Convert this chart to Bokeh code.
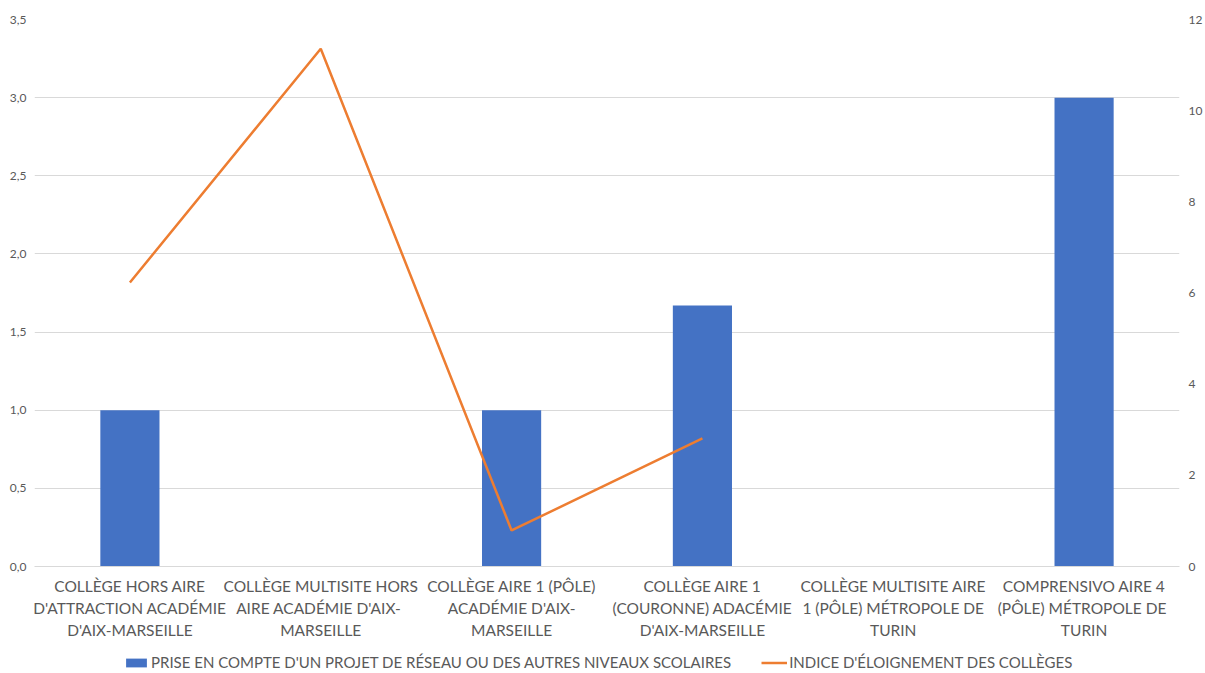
from bokeh.plotting import figure
from bokeh.layouts import column
from bokeh.models import (Range1d, LinearAxis, FixedTicker, CustomJSTickFormatter,
                          Legend, LegendItem)
from bokeh.embed import file_html
from bokeh.resources import INLINE

label_lines = [
    ("COLLÈGE HORS AIRE", "D'ATTRACTION ACADÉMIE", "D'AIX-MARSEILLE"),
    ("COLLÈGE MULTISITE HORS", "AIRE  ACADÉMIE D'AIX-", "MARSEILLE"),
    ("COLLÈGE AIRE 1 (PÔLE)", "ACADÉMIE D'AIX-", "MARSEILLE"),
    ("COLLÈGE AIRE 1", "(COURONNE) ADACÉMIE", "D'AIX-MARSEILLE"),
    ("COLLÈGE MULTISITE AIRE", "1 (PÔLE) MÉTROPOLE DE", "TURIN"),
    ("COMPRENSIVO AIRE 4", "(PÔLE)  MÉTROPOLE DE", "TURIN"),
]
categories = [" ".join(l) for l in label_lines]
positions = list(range(len(categories)))
bar_values = [1.0, 0.0, 1.0, 1.67, 0.0, 3.0]
line_values = [6.23, 11.36, 0.79, 2.81, float("nan"), float("nan")]
left_ticks = [0, 0.5, 1.0, 1.5, 2.0, 2.5, 3.0, 3.5]
right_ticks = [0, 2, 4, 6, 8, 10, 12]
bar_label = "PRISE EN COMPTE D'UN PROJET DE RÉSEAU OU DES AUTRES NIVEAUX SCOLAIRES"
line_label = "INDICE D'ÉLOIGNEMENT DES COLLÈGES"

FONT = "Lato"
TXT = "#595959"
BLUE = "#4472C4"
ORANGE = "#ED7D31"

p = figure(width=1205, height=648, x_range=Range1d(-0.5, len(categories) - 0.5),
           y_range=Range1d(0, 3.5), output_backend="svg", toolbar_location=None,
           min_border_left=34, min_border_right=22, min_border_top=19, min_border_bottom=82,
           x_axis_location=None)
p.extra_y_ranges = {"right": Range1d(0, 12)}
p.outline_line_color = None
p.background_fill_color = "white"

p.vbar(x=positions, top=bar_values, width=0.31, fill_color=BLUE, line_color=None)
p.line(x=positions, y=line_values, y_range_name="right", line_color=ORANGE, line_width=2.5)

# left axis
ya = p.yaxis[0]
ya.ticker = FixedTicker(ticks=left_ticks)
ya.formatter = CustomJSTickFormatter(code="return tick.toFixed(1).replace('.', ',');")
ya.axis_line_color = None
ya.major_tick_line_color = None
ya.major_tick_out = 0
ya.minor_tick_line_color = None
ya.major_label_text_font = FONT
ya.major_label_text_font_size = "12px"
ya.major_label_text_color = TXT
ya.major_label_standoff = 8

ra = LinearAxis(y_range_name="right", ticker=FixedTicker(ticks=right_ticks))
ra.axis_line_color = None
ra.major_tick_line_color = None
ra.major_tick_out = 0
ra.minor_tick_line_color = None
ra.major_label_text_font = FONT
ra.major_label_text_font_size = "12px"
ra.major_label_text_color = TXT
ra.major_label_standoff = 9
p.add_layout(ra, "right")

for i in range(3):
    ax = LinearAxis(ticker=FixedTicker(ticks=positions))
    ax.formatter = CustomJSTickFormatter(args=dict(lines=[l[i] for l in label_lines]),
                                         code="return lines[Math.round(tick)] || '';")
    ax.axis_line_color = "#D9D9D9" if i == 0 else None
    ax.major_tick_line_color = None
    ax.major_tick_out = 0
    ax.minor_tick_line_color = None
    ax.major_label_text_font = FONT
    ax.major_label_text_font_size = "15.5px"
    ax.major_label_text_color = TXT
    ax.major_label_standoff = 10 if i == 0 else 1
    p.add_layout(ax, "below")

p.xgrid.grid_line_color = None
p.ygrid.grid_line_color = "#D9D9D9"
p.ygrid.ticker = FixedTicker(ticks=left_ticks)

# legend strip (series renderers kept hidden; only their legend glyphs show)
lg = figure(width=1205, height=25, x_range=Range1d(-0.5, len(categories) - 0.5),
            y_range=Range1d(0, 3.5), output_backend="svg", toolbar_location=None,
            min_border_left=0, min_border_right=0, min_border_top=0, min_border_bottom=0,
            x_axis_location=None, y_axis_location=None)
lg.extra_y_ranges = {"right": Range1d(0, 12)}
lg.outline_line_color = None
lg.xgrid.visible = False
lg.ygrid.visible = False
r_bar = lg.vbar(x=positions, top=bar_values, width=0.31, fill_color=BLUE, line_color=None,
                visible=False)
r_line = lg.line(x=positions, y=line_values, y_range_name="right", line_color=ORANGE,
                 line_width=2.5, visible=False)

legend = Legend(items=[LegendItem(label=bar_label, renderers=[r_bar]),
                       LegendItem(label=line_label, renderers=[r_line])],
                orientation="horizontal", location=(89, 2))
legend.label_text_font = FONT
legend.label_text_font_size = "15px"
legend.label_text_color = TXT
legend.glyph_width = 26
legend.glyph_height = 11
legend.label_standoff = 2
legend.spacing = 30
legend.padding = 2
legend.margin = 0
legend.border_line_color = None
legend.background_fill_alpha = 0
legend.inactive_fill_alpha = 0
lg.add_layout(legend)

layout = column(p, lg, spacing=0)
open("out.html", "w").write(file_html(layout, INLINE))
